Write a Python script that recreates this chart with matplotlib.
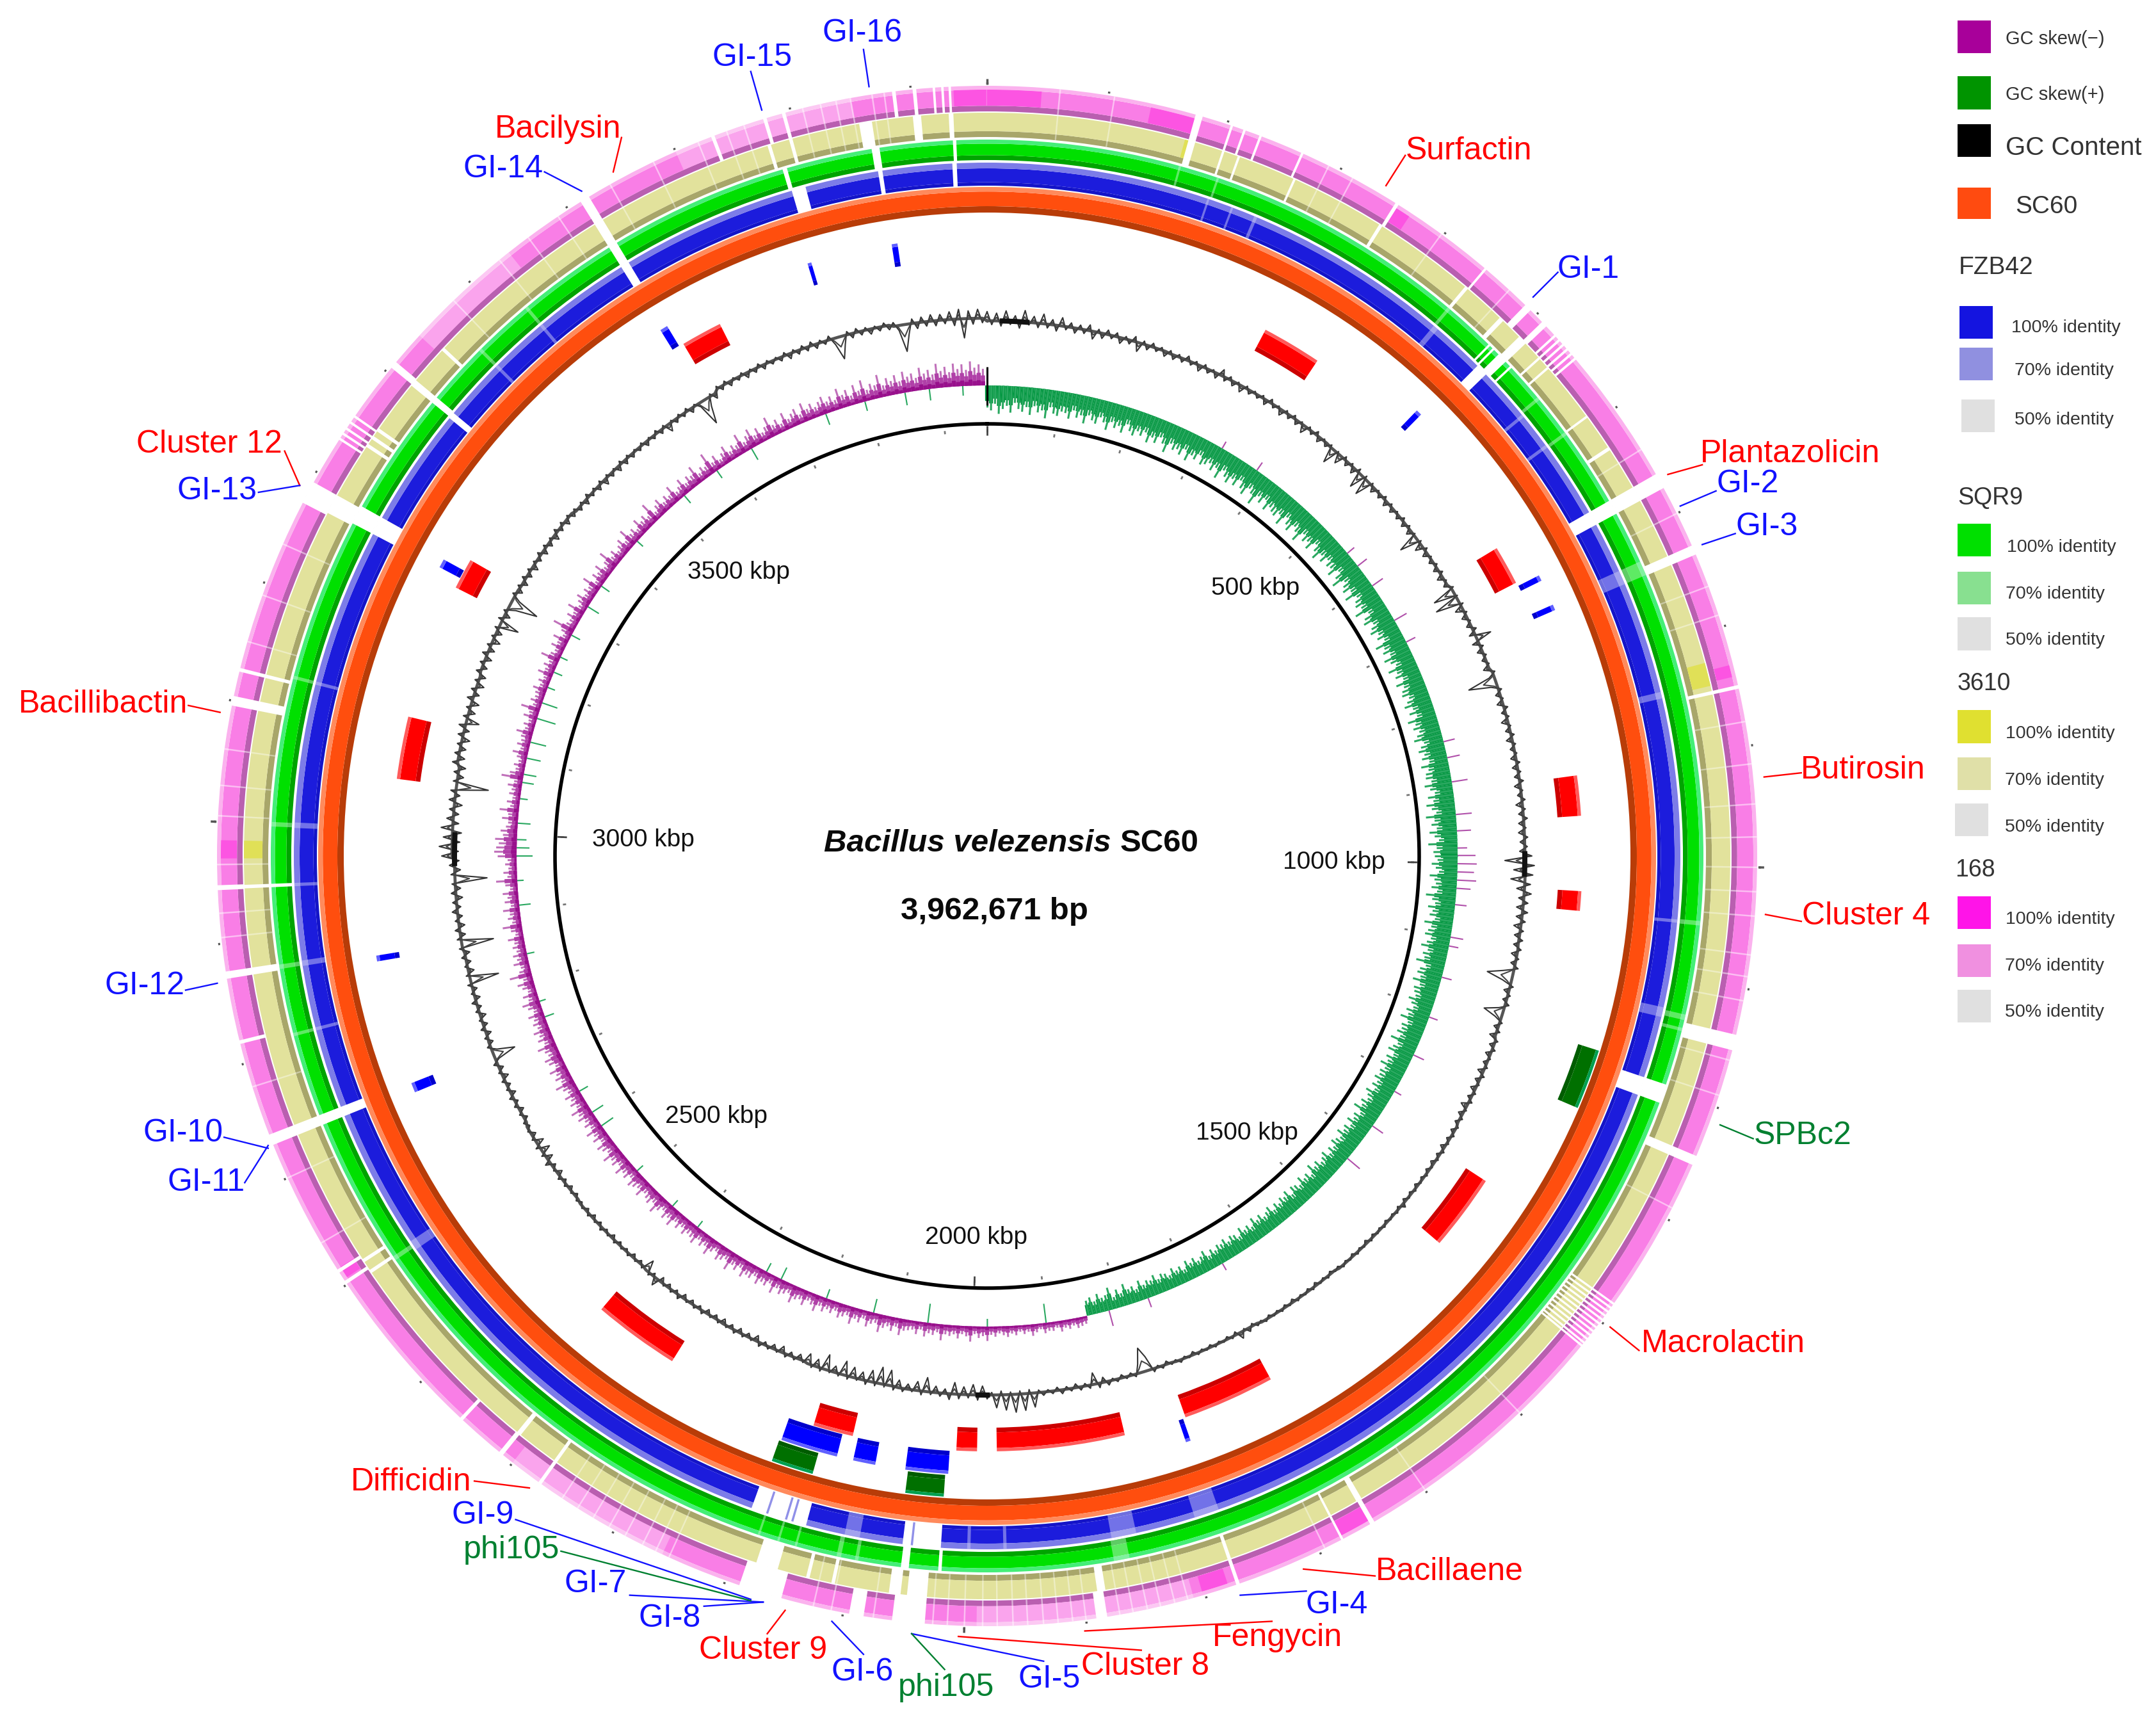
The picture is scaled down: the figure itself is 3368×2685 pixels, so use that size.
import numpy as np
import matplotlib
matplotlib.use('Agg')
import matplotlib.pyplot as plt
from matplotlib.patches import Rectangle

plt.rcParams['font.family'] = ['Liberation Sans', 'DejaVu Sans']

GENOME = 3962.671

# features, kbp
red_start = [307, 648, 905, 1028, 1355, 1668, 1834, 1992, 2125, 2333, 3054, 3267, 3625]
red_end = [371, 690, 948, 1049, 1437, 1767, 1971, 2014, 2168, 2426, 3121, 3300, 3669]
blue_start = [484, 694, 727, 1770, 2021, 2096, 2136, 2725, 2864, 3278, 3612, 3777, 3865]
blue_end = [490, 700, 733, 1775, 2065, 2119, 2195, 2735, 2870, 3287, 3620, 3781, 3871]
phage_start = [1185, 2024, 2155]
phage_end = [1245, 2062, 2197]

# white gaps per ring: centre, width (kbp)
fzb_gap = [501, 670, 1204, 2174, 2041, 2734, 3285, 3406, 3616, 3789, 3865, 3933]
fzb_gap_w = [11, 13, 17, 52, 35, 9, 17, 6, 8, 13, 4, 4]
fzb_pale = [205, 228, 251, 444, 557, 592, 730, 843, 1050, 1134, 1856, 1778, 1965, 1998, 2105, 2596, 2813, 2874, 2946, 3000, 3131, 3467, 3522]
fzb_pale_w = [2, 2, 3, 5, 3, 3, 13, 6, 3, 9, 23, 23, 3, 3, 14, 9, 3, 5, 3, 5, 3, 3, 3]
fzb_ghost = [2185, 2167, 2161, 2050]

sqr_gap = [506, 490, 495, 517, 670, 1204, 2054, 2023, 2734, 3285, 3407, 3616, 3782, 3864, 3934, 2946]
sqr_gap_w = [9, 2, 2, 2, 13, 17, 7, 3, 9, 17, 6, 8, 4, 7, 3, 3]
sqr_pale = [172, 207, 442, 554, 593, 730, 1050, 1134, 1145, 1862, 2152, 2168, 2186, 2113, 2097, 2596, 3000, 2874, 3131, 2813, 3467, 3522]
sqr_pale_w = [2, 2, 3, 3, 3, 13, 4, 5, 3, 14, 2, 2, 2, 4, 3, 4, 4, 4, 3, 3, 3, 3]

y3610_gap = [176, 204, 218, 269, 352, 442, 482, 507, 528, 539, 592, 625, 670, 733, 851, 1145, 1247, 1651, 1679, 1772, 1884, 2060, 2041,
             2171, 2113, 2135, 2411, 2372, 2598, 2609, 2734, 2874, 2946, 3100, 3126, 3283, 3341, 3349, 3357, 3407, 3445, 3616, 3775, 3794, 3859, 3903, 3932]
y3610_gap_w = [6, 2, 2, 2, 3, 3, 4, 8, 2, 2, 2, 3, 13, 8, 3, 13, 8, 5, 2, 3, 7, 10, 17,
               19, 3, 3, 4, 3, 3, 3, 9, 6, 3, 8, 3, 17, 3, 3, 3, 6, 3, 8, 3, 3, 11, 7, 4]
b168_gap = [176, 204, 215, 229, 266, 354, 444, 491, 510, 523, 528, 533, 538, 543, 548, 670, 733, 851, 1145, 1247, 1651, 1679, 1772, 1887, 2046,
            2089, 2170, 2412, 2455, 2372, 2602, 2613, 2734, 2818, 2874, 2946, 3100, 3126, 3282, 3333, 3338, 3343, 3349, 3355, 3408, 3616, 3733, 3778, 3794, 3886, 3903, 3919, 3926, 3932]
b168_gap_w = [6, 2, 2, 2, 2, 3, 2, 6, 5, 2, 2, 2, 2, 2, 2, 13, 8, 3, 13, 8, 4, 2, 3, 9, 27,
              12, 36, 4, 3, 3, 3, 3, 9, 3, 6, 4, 8, 3, 19, 2, 2, 2, 2, 2, 6, 8, 3, 3, 3, 3, 3, 2, 2, 2]
thin_stripes = [60, 105, 290, 312, 398, 470, 640, 700, 765, 790, 880, 915, 948, 975, 1000, 1020, 1040, 1072, 1090, 1110, 1160, 1190, 1290, 1500, 1600, 1695,
                1815, 1826, 1838, 1849, 1861, 1872, 1900, 1911, 1923, 1935, 1948, 1960, 1973, 1985, 2000, 2014, 2026, 2075, 2110, 2125,
                2250, 2262, 2274, 2290, 2305, 2320, 2335, 2350, 2640, 2700, 2780, 2905, 2925, 2965, 3005, 3030, 3060, 3150, 3190, 3235, 3480, 3530, 3560, 3590, 3640, 3680, 3720,
                3745, 3760, 3810, 3825, 3838, 3850, 3868, 3878]
macro_comb = [1382, 1386, 1390, 1394, 1398, 1402, 1406, 1410, 1414, 1418, 1422, 1425]

b168_strong_start = [3935, 0, 136, 354, 832, 1651, 1780, 2605, 2970]
b168_strong_end = [3962, 45, 174, 368, 842, 1679, 1802, 2615, 2985]
y3610_strong_start = [170, 825, 2970]
y3610_strong_end = [176, 845, 2985]
b168_faint_start = [1810, 2256, 3440, 3700]
b168_faint_end = [1990, 2400, 3540, 3850]
gc_dark_start = [15, 985, 2960, 1978]
gc_dark_end = [50, 1015, 3000, 1995]

# slow drift of the GC content baseline, one value per 10 degrees
gc_base = [836, 836, 835, 835, 834, 834, 837, 840, 840, 841, 842, 845, 847, 847, 845, 843, 842, 842,
           842, 841, 839, 838, 836, 834, 831, 830, 832, 836, 840, 842, 841, 838, 838, 843, 843, 840]

# GC content around the baseline, two samples per degree, + outward
gc_content = [
    14, -6, 12, -8, 16, -5, 9, -10, 18, -4, 10, -7, 15, -6, 8, -9, 13, -5, 7, -8,
    6, -6, 9, -12, 5, -8, 7, -5, 6, -9, 4, -6, 8, -14, 5, -7, 6, -5, 4, -8,
    5, -7, 4, -6, 7, -5, 4, -9, 5, -6, 3, -8, 10, -6, 5, -7, 3, -10, 4, -6,
    3, -5, 4, -8, 6, -5, 3, -9, 4, -6, 5, -7, 3, -12, 4, -5, 6, -8, 3, -6,
    4, -24, 3, -14, 5, -7, 4, -9, 6, -24, 5, -26, 4, -8, 3, -6, 5, -8, 4, -7,
    3, -6, 5, -7, 4, -8, 3, -30, 4, -12, 5, -8, 3, -6, 4, -7, 5, -9, 3, -6,
    4, -34, 3, -38, 5, -12, 4, -8, 3, -7, 6, -9, 24, -10, 5, -8, 4, -6, 3, -9,
    4, -8, -44, -10, 5, -7, 3, -9, 6, -6, 4, -10, 3, -7, 5, -9, 4, -6, 3, -8,
    5, -8, 4, -7, 6, -9, 3, -6, 5, -10, 4, -7, 6, -8, 3, -9, 5, -7, 4, -8,
    10, -32, 14, -18, 12, -22, 9, -12, 11, -8, 7, -10, 8, -9, 6, -11, 5, -8, 6, -7,
    5, -9, 4, -7, 6, -16, -40, -14, 5, -8, 4, -6, 6, -8, -30, -10, 4, -7, 5, -9,
    4, -7, 5, -8, 3, -6, 4, -9, 5, -7, 3, -8, 4, -6, 5, -10, 3, -7, 4, -5,
    3, -6, 4, -5, 3, -7, 4, -5, 3, -6, 2, -5, 3, -4, 2, -5, 3, -4, 2, -5,
    6, -4, 3, -3, 2, -4, 3, -3, 2, -4, 3, -5, 2, -3, 3, -4, 2, -3, 3, -4,
    2, -4, 3, -3, 2, -5, 3, -4, 2, -3, 3, -5, 2, -4, 3, -3, 2, -4, 3, -3,
    4, -4, 6, -3, 10, -5, 3, -4, 2, -3, 3, -4, 2, -3, 3, -5, 2, -3, 4, -3,
    3, -5, 4, -3, 5, -22, -38, -14, 4, -4, 3, -5, 4, -3, 6, -8, 7, -18, 5, -4,
    5, -6, 4, -4, 6, -5, 4, -3, 5, -4, 22, -6, 26, -5, 28, -4, 24, -6, 20, -4,
    6, -14, 8, -16, 5, -12, 7, -18, 9, -7, 5, -10, 4, -22, 6, -14, 3, -8, 5, -12,
    6, -24, 4, -26, 5, -18, 6, -12, 3, -16, 5, -22, 4, -10, 3, -24, 5, -12, 4, -16,
    3, -8, 4, -6, 5, -10, 3, -7, 4, -5, 6, -9, 3, -6, 4, -7, 5, -6, 3, -8,
    4, -6, 3, -7, 5, -5, 4, -6, 3, -7, 6, -5, 4, -6, 3, -8, 12, -5, 4, -18,
    4, -5, 3, -6, 4, -4, 3, -5, 4, -6, 3, -4, 5, -5, 3, -6, 4, -5, 3, -4,
    4, -5, 3, -6, 4, -5, 5, -8, 3, -6, 8, -10, 5, -14, 6, -12, 4, -7, 3, -5,
    5, -6, 4, -7, 5, -5, 6, -8, 4, -6, 5, -9, 4, -7, 6, -6, -35, -8, 5, -7,
    5, -8, 6, -7, 4, -9, 5, -6, 7, -8, 4, -7, 6, -45, 5, -9, 4, -7, 6, -8,
    5, -50, 6, -8, 7, -9, 5, -7, 8, -6, 6, -10, 7, -8, 5, -50, 6, -9, 8, -7,
    16, -10, 20, -12, 14, -14, 18, -9, 10, -8, 7, -12, 9, -7, 8, -50, 6, -9, 7, -10,
    8, -10, 7, -9, 6, -12, 8, -8, 10, -20, 7, -10, 6, -12, 9, -8, 7, -11, 6, -9,
    7, -8, 6, -10, 8, -9, 6, -12, 5, -9, 6, -30, 7, -9, 5, -12, -45, -11, 5, -8,
    5, -8, 6, -7, 5, -9, 4, -6, 6, -8, 5, -7, 4, -9, 6, -6, 5, -8, 4, -7,
    5, -6, 4, -8, 6, -5, 4, -7, 5, -9, 4, -6, 3, -8, 5, -7, 4, -6, 3, -5,
    4, -7, 3, -5, 5, -6, 4, -12, 3, -6, 4, -5, 5, -7, 3, -6, -40, -14, 4, -8,
    4, -6, 5, -7, 3, -5, 4, -8, 3, -6, 5, -7, 4, -5, 3, -6, 5, -8, 4, -6,
    5, -6, 6, -7, 4, -5, 6, -10, -35, -14, 5, -7, 6, -6, 4, -8, 3, -6, 5, -7,
    6, -8, -42, -16, 7, -9, 8, -7, 10, -8, 9, -6, 12, -10, 15, -30, 12, -9, 14, -7,
]

# GC skew size, two samples per degree: inward green before the switch, outward purple after
skew_switch = 1846
gc_skew = [
    26, 30, 22, 34, 28, 24, 32, 20, 27, 30, 24, 33, 22, 29, 26, 35, 21, 28, 30, 24,
    25, 31, 20, 28, 24, 33, 22, 27, 30, 21, 26, 34, 23, 29, 25, 32, 20, 27, 31, 24,
    28, 22, 33, 25, 30, 21, 27, 36, 23, 29, 26, 31, 22, 34, 25, 28, 20, 30, 27, 23,
    30, 24, 35, 22, 28, 33, 25, 31, 21, 29, 34, 23, 27, 38, 24, 30, 22, 33, 26, 29,
    31, 25, 36, 22, 29, 34, 24, 28, 37, 23, 30, 26, 33, 21, 28, 35, 25, 31, 23, 29,
    27, 34, 22, 30, 38, 24, 29, 33, 25, 36, 23, 28, 31, 26, 37, 22, 30, 34, 24, 29,
    33, 25, 29, 22, 36, 27, 31, 24, 34, 28, 23, 35, 26, 30, 22, 33, 25, 29, 31, 24,
    28, 33, 24, 30, 22, 35, 27, 31, 25, 29, 34, 23, 28, 32, 26, 30, 22, 33, 25, 29,
    30, 24, 33, 27, 22, 31, 25, 34, 28, 23, 36, 26, 30, 24, 33, 27, 22, 35, 25, 29,
    28, 24, 31, 26, 22, 33, 27, 25, 30, 23, 36, 28, 24, 32, 26, 29, 22, 34, 25, 28,
    31, 23, 27, 33, 24, 29, 26, 35, 22, 28, 30, 25, 33, 23, 29, 27, 24, 31, 26, 22,
    29, 25, 33, 22, 28, 26, 30, 24, 34, 23, 27, 31, 22, 29, 25, 32, 24, 28, 26, 30,
    24, 28, 22, 31, 26, 23, 29, 25, 33, 21, 27, 24, 30, 22, 28, 25, 31, 23, 26, 29,
    22, 26, 20, 28, 24, 21, 27, 23, 30, 19, 25, 22, 28, 20, 24, 26, 18, 27, 22, 25,
    20, 24, 18, 26, 22, 19, 25, 21, 27, 18, 23, 20, 26, 17, 22, 24, 19, 25, 21, 23,
    18, 22, 16, 25, 20, 17, 23, 19, 24, 15, 21, 18, 23, 16, 20, 22, 17, 24, 19, 21,
    17, 24, 15, 20, 18, 26, 16, 22, 14, 27, 19, 17, 23, 15, 21, 18, 12, 14, 16, 11,
    15, 12, 17, 10, 14, 13, 16, 9, 13, 18, 11, 14, 10, 15, 12, 17, 14, 11, 16, 13,
    22, 15, 18, 12, 24, 16, 13, 20, 14, 17, 15, 25, 13, 18, 16, 22, 12, 20, 14, 16,
    18, 26, 14, 22, 16, 20, 28, 15, 18, 24, 13, 21, 17, 27, 15, 19, 23, 14, 20, 16,
    22, 15, 26, 18, 14, 24, 17, 20, 28, 15, 19, 23, 16, 27, 14, 21, 18, 25, 15, 22,
    20, 27, 15, 23, 18, 30, 16, 21, 25, 14, 19, 28, 17, 22, 15, 26, 20, 18, 24, 16,
    23, 16, 28, 19, 25, 15, 21, 30, 17, 24, 20, 16, 27, 18, 22, 26, 15, 23, 19, 28,
    16, 24, 20, 30, 17, 22, 27, 15, 25, 19, 28, 16, 23, 18, 26, 21, 30, 17, 24, 19,
    26, 17, 22, 31, 18, 25, 20, 28, 15, 23, 27, 18, 21, 30, 16, 24, 19, 26, 17, 22,
    18, 25, 14, 21, 28, 16, 23, 13, 20, 26, 15, 35, 18, 14, 24, 17, 22, 15, 20, 16,
    25, 12, 18, 30, 14, 20, 16, 26, 13, 22, 17, 24, 12, 19, 33, 15, 21, 13, 18, 14,
    30, 35, 32, 28, 34, 22, 26, 18, 15, 25, 16, 30, 14, 20, 12, 18, 15, 22, 13, 34,
    22, 14, 18, 12, 16, 24, 13, 20, 15, 17, 26, 14, 18, 12, 22, 15, 30, 13, 19, 14,
    16, 22, 13, 18, 12, 24, 15, 20, 14, 30, 17, 13, 22, 15, 25, 12, 18, 35, 16, 14,
    22, 15, 28, 13, 18, 24, 14, 20, 16, 30, 12, 22, 17, 26, 14, 19, 32, 15, 21, 13,
    18, 24, 14, 30, 16, 20, 13, 26, 17, 22, 15, 33, 12, 19, 25, 14, 21, 16, 28, 13,
    17, 26, 14, 22, 18, 30, 13, 20, 16, 35, 15, 23, 12, 19, 27, 14, 21, 17, 32, 15,
    22, 30, 16, 25, 14, 20, 33, 17, 23, 13, 28, 15, 21, 26, 14, 30, 18, 24, 16, 22,
    28, 18, 24, 16, 32, 20, 26, 15, 30, 19, 34, 17, 25, 21, 36, 18, 28, 22, 30, 19,
    33, 24, 28, 20, 35, 25, 30, 22, 38, 26, 32, 23, 36, 27, 34, 25, 38, 28, 33, 26,
]

# spikes that go against the main direction of the skew
skew_out_pos = [330, 385, 550, 572, 605, 660, 693, 836, 858, 891, 935, 957, 980, 990, 1001, 1012, 1023, 1034, 1056, 1100, 1112, 1155, 1211, 1266, 1321, 1376, 1431, 1651, 1761, 1816]
skew_out_val = [12, 15, 14, 18, 20, 22, 16, 18, 20, 25, 25, 22, 15, 28, 30, 26, 30, 22, 18, 20, 15, 16, 14, 18, 12, 20, 25, 12, 15, 25]
skew_in_pos = [1902, 1981, 2061, 2135, 2201, 2267, 2289, 2399, 2443, 2510, 2587, 2609, 2642, 2752, 2774, 2840, 2906, 2939, 2972, 2983, 2994, 3016, 3049, 3071, 3082, 3104, 3126, 3159, 3181, 3203, 3225, 3247, 3280, 3324, 3357, 3434, 3522, 3577, 3632, 3742, 3797, 3852, 3885, 3930]
skew_in_val = [30, 12, 30, 22, 15, 20, 15, 12, 12, 12, 22, 20, 15, 15, 10, 12, 18, 10, 25, 20, 15, 20, 12, 18, 20, 22, 25, 30, 25, 12, 14, 12, 15, 20, 15, 12, 15, 14, 20, 18, 15, 20, 18, 15]

ruler_major = [0, 1000, 2000, 3000]
ruler_labels = ['500 kbp', '1000 kbp', '1500 kbp', '2000 kbp', '2500 kbp', '3000 kbp', '3500 kbp']

label_names = ['Surfactin', 'Bacilysin', 'GI-14', 'GI-15', 'GI-16', 'GI-1', 'Plantazolicin', 'GI-2', 'GI-3', 'Butirosin', 'Cluster 4', 'SPBc2',
               'Macrolactin', 'Bacillaene', 'GI-4', 'Fengycin', 'Cluster 8', 'GI-5', 'phi105', 'GI-6', 'Cluster 9', 'GI-8', 'GI-7', 'phi105', 'GI-9',
               'Difficidin', 'Bacillibactin', 'Cluster 12', 'GI-13', 'GI-12', 'GI-10', 'GI-11']
label_kinds = ['r', 'r', 'b', 'b', 'b', 'b', 'r', 'b', 'b', 'r', 'r', 'g', 'r', 'r', 'b', 'r', 'r', 'b', 'g', 'b', 'r', 'b', 'b', 'g', 'b', 'r', 'r', 'r', 'b', 'b', 'b', 'b']

legend_groups = ['FZB42', 'SQR9', '3610', '168']
legend_idents = ['100% identity', '70% identity', '50% identity']

# layout, in pixels of the shrunk view
S = 3368 / 1568
label_xy = [(1068, 110), (406, 94), (366, 123), (547, 42), (627, 24), (1155, 196), (1302, 330), (1271, 352), (1285, 383), (1355, 560), (1357, 666), (1311, 826),
            (1253, 977), (1054, 1143), (972, 1167), (929, 1191), (833, 1212), (763, 1221), (688, 1227), (627, 1216), (555, 1200), (487, 1177), (433, 1152), (372, 1127), (351, 1102),
            (299, 1078), (75, 512), (152, 323), (158, 357), (105, 717), (133, 824), (150, 860)]
leader_xy = [(1022, 113, 1008, 135), (452, 100, 446, 125), (396, 125, 423, 139), (546, 52, 554, 80), (628, 36, 632, 63), (1133, 198, 1115, 216), (1238, 338, 1213, 345), (1248, 357, 1222, 368), (1262, 388, 1238, 396), (1310, 562, 1283, 565), (1310, 670, 1284, 665), (1275, 828, 1251, 818),
             (1192, 982, 1171, 965), (1000, 1146, 948, 1141), (950, 1157, 902, 1160), (925, 1179, 789, 1186), (830, 1200, 697, 1190), (759, 1208, 663, 1188), (687, 1214, 663, 1188), (628, 1203, 605, 1179), (558, 1188, 571, 1171), (512, 1168, 555, 1165), (458, 1160, 555, 1165), (408, 1128, 546, 1164),
             (375, 1105, 546, 1163), (345, 1077, 385, 1082), (137, 513, 160, 518), (207, 328, 218, 353), (188, 358, 218, 353), (135, 720, 158, 715), (163, 827, 195, 835), (178, 860, 195, 833)]
ruler_xy = [(913, 428), (970, 627), (907, 824), (710, 900), (521, 812), (468, 611), (537, 416)]

CX, CY, RMAX = 1542, 1337, 1337
W, H = 3368, 2685


def th(kbp):
    return 2 * np.pi * np.asarray(kbp, dtype=float) / GENOME


fig = plt.figure(figsize=(W / 100, H / 100), dpi=100, facecolor='white')
ax = fig.add_axes([(CX - RMAX) / W, 1 - (CY + RMAX) / H, 2 * RMAX / W, 2 * RMAX / H], projection='polar')
ax.set_theta_zero_location('N')
ax.set_theta_direction(-1)
ax.set_ylim(0, RMAX)
ax.axis('off')


def spans(start, end, r0, r1, color, **kw):
    start = np.asarray(start, dtype=float)
    end = np.asarray(end, dtype=float)
    ax.bar(th((start + end) / 2), r1 - r0, width=th(end - start), bottom=r0, color=color, linewidth=0, **kw)


def ring(r0, r1, bands):
    # bands: (fraction start, fraction end, colour), inside to outside
    for f0, f1, c in bands:
        ax.bar(0, (f1 - f0) * (r1 - r0), width=2 * np.pi, bottom=r0 + f0 * (r1 - r0), color=c, linewidth=0, zorder=2)


def slits(pos, w, r0, r1, color='white', alpha=1.0, zorder=4):
    pos = np.asarray(pos, dtype=float)
    w = np.broadcast_to(np.asarray(w, dtype=float), pos.shape)
    ax.bar(th(pos), r1 - r0, width=th(w), bottom=r0, color=color, alpha=alpha, linewidth=0, zorder=zorder)


# rings
ring(1005, 1045, [(0, .25, '#b83c08'), (.25, .82, '#ff4e0e'), (.82, 1, '#ff8a5c')])
ring(1047, 1083, [(0, .15, '#1414c8'), (.15, .75, '#1c1cdc'), (.75, 1, '#7c7ce8')])
ring(1087, 1119, [(0, .24, '#00a400'), (.24, .8, '#00e000'), (.8, 1, '#44ee77')])
ring(1123, 1161, [(0, .24, '#a8a66a'), (.24, 1, '#e2e29c')])
ring(1163, 1203, [(0, .22, '#b95fb0'), (.22, .85, '#f97ee6'), (.85, 1, '#fbb2ee')])

for s, e in zip(b168_strong_start, b168_strong_end):
    spans([s], [e], 1172, 1197, '#ff38e0', zorder=3, alpha=.6)
for s, e in zip(y3610_strong_start, y3610_strong_end):
    spans([s], [e], 1132, 1161, '#e0e040', zorder=3, alpha=.75)
spans(b168_faint_start, b168_faint_end, 1172, 1203, 'white', zorder=3, alpha=.3)

slits(fzb_pale, fzb_pale_w, 1047, 1083, '#c8c8f4', .5)
slits(sqr_pale, sqr_pale_w, 1087, 1119, '#bdf5c8', .5)
slits(thin_stripes, 1.3, 1123, 1161, 'white', .4)
slits(thin_stripes, 1.3, 1163, 1203, 'white', .5)
slits(fzb_gap, fzb_gap_w, 1046, 1084)
slits(sqr_gap, sqr_gap_w, 1086, 1120)
slits(y3610_gap, y3610_gap_w, 1122, 1162)
slits(b168_gap, b168_gap_w, 1162, 1204)
slits(macro_comb, 1.8, 1122, 1162)
slits(macro_comb, 1.8, 1162, 1204)
slits(fzb_ghost, 2, 1047, 1083, '#9090e8', 1, 5)

# features, dark side towards the centre
for starts, ends, r0, r1, cols in [
    (red_start, red_end, 893, 930, ('#cc0000', '#ff0000', '#ff5a5a')),
    (blue_start, blue_end, 931, 967, ('#0000cc', '#0000ff', '#6060ff')),
    (phage_start, phage_end, 969, 1003, ('#005c00', '#007000', '#00a050')),
]:
    dr = r1 - r0
    spans(starts, ends, r0, r0 + .2 * dr, cols[0], zorder=3)
    spans(starts, ends, r0 + .2 * dr, r1 - .14 * dr, cols[1], zorder=3)
    spans(starts, ends, r1 - .14 * dr, r1, cols[2], zorder=3)

# GC content: a fuzzy core with the trace running through it
gc = np.array(gc_content, dtype=float)
gc_theta = 2 * np.pi * np.arange(len(gc)) / len(gc)
base = np.repeat(np.array(gc_base, dtype=float), len(gc) // len(gc_base))
ax.plot(np.append(gc_theta, 2 * np.pi), np.append(base, base[0]), color='#555555', lw=3.4, zorder=3)
ax.plot(np.append(gc_theta, 2 * np.pi), np.append(base + gc, base[0] + gc[0]), color='#333333', lw=1.5, zorder=3)
ax.plot(np.append(gc_theta, 2 * np.pi), np.append(base + 0.45 * gc, base[0] + 0.45 * gc[0]), color='#444444', lw=1.5, zorder=3)
for s, e in zip(gc_dark_start, gc_dark_end):
    i = int(s / GENOME * len(gc))
    b = base[i]
    spans([s], [e], b - 4, b + 4, '#111111', zorder=3)

# GC skew
BASE = 735
SKEW_GREEN = 1.3
skew = np.array(gc_skew, dtype=float)
sk_kbp = GENOME * np.arange(len(skew)) / len(skew)
plus = sk_kbp < skew_switch
w = th(GENOME / len(skew))
d = SKEW_GREEN * skew[plus]
ax.bar(th(sk_kbp[plus]), 0.72 * d, width=w, bottom=BASE - 0.72 * d, color='#00963f', linewidth=0, zorder=3)
ax.vlines(th(sk_kbp[plus]), BASE - d, BASE, color='#2aa860', lw=2.2, zorder=3)
ax.bar(th(sk_kbp[~plus]), 0.6 * skew[~plus], width=w, bottom=BASE, color='#b040a8', linewidth=0, zorder=3)
ax.bar(th(sk_kbp[~plus]), 0.25 * skew[~plus], width=w, bottom=BASE, color='#98108c', linewidth=0, zorder=3)
ax.vlines(th(sk_kbp[~plus]), BASE, BASE + skew[~plus], color='#c070ba', lw=2.2, zorder=2)
ax.vlines(th(skew_out_pos), BASE, BASE + np.array(skew_out_val), color='#b050aa', lw=1.5, zorder=2)
ax.vlines(th(skew_in_pos), BASE - np.array(skew_in_val), BASE, color='#2aa860', lw=1.5, zorder=2)
ax.vlines(0, 704, 764, color='black', lw=2.2, zorder=5)

# inner circle and ticks
t = np.linspace(0, 2 * np.pi, 720)
ax.plot(t, np.full_like(t, 675), color='black', lw=4, zorder=4)
minor = np.arange(0, GENOME, 100)
ax.vlines(th(minor), 662, 667, color='#777777', lw=2, zorder=4)
ax.vlines(th(minor), 1206, 1209, color='#555555', lw=2.5, zorder=4)
ax.vlines(th(ruler_major), 657, 672, color='#444444', lw=2, zorder=4)
ax.vlines(th(ruler_major), 1205, 1214, color='#555555', lw=2.5, zorder=4)

# labels, leaders and legend sit on a pixel layer
ov = fig.add_axes([0, 0, 1, 1], facecolor='none')
ov.set_xlim(0, W)
ov.set_ylim(H, 0)
ov.axis('off')

kind_col = {'r': '#ff0000', 'b': '#1212ff', 'g': '#008030'}
for name, kind, (x, y), (x0, y0, x1, y1) in zip(label_names, label_kinds, label_xy, leader_xy):
    ov.text(x * S, y * S, name, color=kind_col[kind], fontsize=36, ha='center', va='center')
    ov.plot([x0 * S, x1 * S], [y0 * S, y1 * S], color=kind_col[kind], lw=1.7)

for s, (x, y) in zip(ruler_labels, ruler_xy):
    ov.text(x * S, y * S, s, fontsize=28, color='#111111', ha='center', va='center')

ov.text(1736, 1318, 'Bacillus velezensis', fontsize=35.5, fontweight='bold', fontstyle='italic', ha='right', va='center', color='#0a0a0a')
ov.text(1750, 1318, 'SC60', fontsize=35.5, fontweight='bold', ha='left', va='center', color='#0a0a0a')
ov.text(1553, 1423, '3,962,671 bp', fontsize=35.5, fontweight='bold', ha='center', va='center', color='#0a0a0a')


def swatch(x, y0, y1, c):
    ov.add_patch(Rectangle((x, y0), 52, y1 - y0, facecolor=c, edgecolor='none'))


txt = '#333333'
swatch(3058, 32, 83, '#a8009a')
ov.text(3133, 61, 'GC skew(\u2212)', fontsize=21, color=txt, va='center')
swatch(3058, 119, 171, '#009400')
ov.text(3133, 148, 'GC skew(+)', fontsize=21, color=txt, va='center')
swatch(3058, 194, 245, 'black')
ov.text(3133, 231, 'GC Content', fontsize=29, color=txt, va='center')
swatch(3058, 293, 342, '#ff4b10')
ov.text(3148, 323, 'SC60', fontsize=28, color=txt, va='center')

group_y = [418, 778, 1068, 1359]
group_x = [3060, 3058, 3058, 3054]
sw_x = [[3061, 3061, 3064], [3058, 3058, 3058], [3058, 3058, 3054], [3058, 3058, 3058]]
sw_y = [[(478, 529), (543, 594), (624, 675)], [(818, 869), (893, 944), (964, 1016)],
        [(1109, 1161), (1183, 1234), (1255, 1306)], [(1400, 1451), (1475, 1526), (1546, 1597)]]
sw_c = [['#1414e0', '#9090e0', '#e0e0e0'], ['#00e000', '#88e090', '#e0e0e0'],
        ['#e0e030', '#e0e0a8', '#e0e0e0'], ['#ff14e8', '#f090e0', '#e0e0e0']]
tx_x = [[3142, 3147, 3147], [3135, 3133, 3133], [3133, 3132, 3132], [3133, 3132, 3132]]
tx_y = [[512, 579, 656], [855, 928, 1000], [1146, 1219, 1292], [1436, 1509, 1581]]
for g in range(4):
    ov.text(group_x[g], group_y[g], legend_groups[g], fontsize=28 if g == 0 else 27, color=txt, va='center')
    for i in range(3):
        swatch(sw_x[g][i], sw_y[g][i][0], sw_y[g][i][1], sw_c[g][i])
        ov.text(tx_x[g][i], tx_y[g][i], legend_idents[i], fontsize=20.5, color=txt, va='center')

fig.savefig('out.png', dpi=100, facecolor='white')
